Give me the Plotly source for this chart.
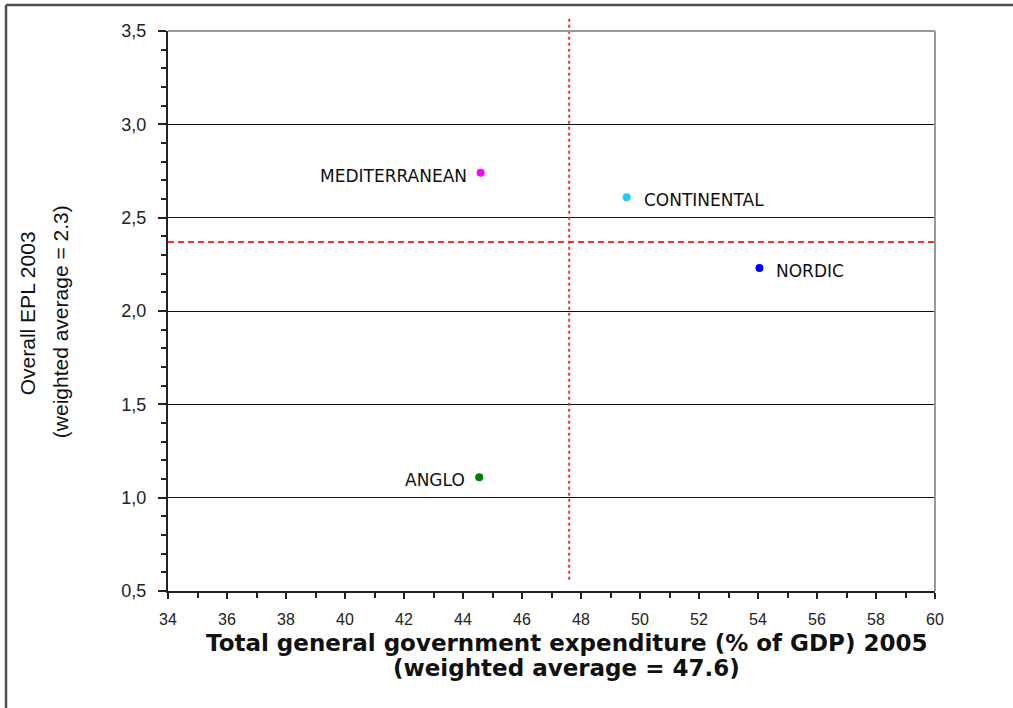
import plotly.graph_objects as go

# ---- data ----
regions = ["MEDITERRANEAN", "CONTINENTAL", "NORDIC", "ANGLO"]
expenditure = [44.6, 49.55, 54.05, 44.55]     # % of GDP 2005
epl = [2.74, 2.61, 2.23, 1.11]                 # Overall EPL 2003
colors = ["#FF00FF", "#22CCEE", "#0000FF", "#008000"]
label_side = ["left", "right", "right", "left"]

avg_expenditure = 47.6
avg_epl = 2.37

y_ticks = [0.5, 1.0, 1.5, 2.0, 2.5, 3.0, 3.5]
y_ticktext = ["0,5", "1,0", "1,5", "2,0", "2,5", "3,0", "3,5"]
x_ticks = list(range(34, 61, 2))

W, H = 1013, 708
L, R, T, B = 168, 78, 31, 117

fig = go.Figure()

fig.add_trace(go.Scatter(
    x=expenditure, y=epl, mode="markers",
    marker=dict(color=colors, size=8, symbol="circle", line=dict(width=0)),
    hoverinfo="skip", showlegend=False, cliponaxis=False,
))

# labels beside points
for name, xv, yv, side in zip(regions, expenditure, epl, label_side):
    fig.add_annotation(
        x=xv, y=yv, xref="x", yref="y", text=name, showarrow=False,
        xanchor="right" if side == "left" else "left",
        xshift=-12 if side == "left" else 15, yshift=-3,
        font=dict(family="DejaVu Sans", size=17, color="#111111"),
    )

# weighted-average reference lines
fig.add_shape(type="line", xref="x", yref="paper",
              x0=avg_expenditure, x1=avg_expenditure, y0=0.02, y1=1.023,
              line=dict(color="#FF2A2A", width=2, dash="3px,3px"))
fig.add_shape(type="line", xref="paper", yref="y",
              x0=0, x1=1, y0=avg_epl, y1=avg_epl,
              line=dict(color="#FF2A2A", width=2, dash="6px,4px"))

# plot-area top/right borders (gray)
fig.add_shape(type="line", xref="paper", yref="paper", x0=0, x1=1, y0=1, y1=1,
              line=dict(color="#999999", width=2))
fig.add_shape(type="line", xref="paper", yref="paper", x0=1, x1=1, y0=0, y1=1,
              line=dict(color="#999999", width=2))

# outer frame (left and top)
fx0 = (6 - L) / (W - L - R)
fy1 = (H - B - 5) / (H - T - B)
fx1 = (W - L) / (W - L - R)
fy0 = (H - B - H) / (H - T - B)
fig.add_shape(type="line", xref="paper", yref="paper", x0=fx0, x1=fx0, y0=fy0, y1=fy1,
              line=dict(color="#505050", width=2.5))
fig.add_shape(type="line", xref="paper", yref="paper", x0=fx0, x1=fx1, y0=fy1, y1=fy1,
              line=dict(color="#505050", width=2.5))

# axis titles
fig.add_annotation(xref="paper", yref="paper", x=0.52, y=-0.093,
                   text="<b>Total general government expenditure (% of GDP) 2005</b>",
                   showarrow=False, xanchor="center", yanchor="middle",
                   font=dict(family="DejaVu Sans", size=23, color="#111111"))
fig.add_annotation(xref="paper", yref="paper", x=0.52, y=-0.137,
                   text="<b>(weighted average = 47.6)</b>",
                   showarrow=False, xanchor="center", yanchor="middle",
                   font=dict(family="DejaVu Sans", size=23, color="#111111"))
fig.add_annotation(xref="paper", yref="paper", x=(27 - L) / (W - L - R), y=0.496,
                   text="Overall EPL 2003", textangle=-90,
                   showarrow=False, xanchor="center", yanchor="middle",
                   font=dict(family="Liberation Sans Narrow, Liberation Sans", size=21, color="#111111"))
fig.add_annotation(xref="paper", yref="paper", x=(60 - L) / (W - L - R), y=0.480,
                   text="(weighted average = 2.3)", textangle=-90,
                   showarrow=False, xanchor="center", yanchor="middle",
                   font=dict(family="Liberation Sans Narrow, Liberation Sans", size=21, color="#111111"))

fig.update_layout(
    width=W, height=H,
    margin=dict(l=L, r=R, t=T, b=B),
    paper_bgcolor="white", plot_bgcolor="white",
    xaxis=dict(
        range=[34, 60], tickvals=x_ticks, showgrid=False, zeroline=False,
        showline=True, linecolor="#222222", linewidth=2,
        ticks="outside", ticklen=6, tickwidth=1.5, tickcolor="#222222",
        minor=dict(dtick=1, ticks="outside", ticklen=5, tickwidth=1.5, tickcolor="#222222"),
        ticklabelstandoff=7,
        tickfont=dict(family="Liberation Sans", size=16, color="#222222"),
    ),
    yaxis=dict(
        range=[0.5, 3.5], tickvals=y_ticks, ticktext=y_ticktext,
        showgrid=True, gridcolor="#111111", gridwidth=1.2, zeroline=False,
        showline=True, linecolor="#222222", linewidth=2,
        ticks="outside", ticklen=8, tickwidth=1.5, tickcolor="#222222",
        minor=dict(dtick=0.1, ticks="outside", ticklen=5, tickwidth=1.5,
                   tickcolor="#222222", showgrid=False),
        ticklabelstandoff=8,
        tickfont=dict(family="Liberation Sans", size=18, color="#222222"),
    ),
)

fig.write_html("out.html", config={"displayModeBar": False},
               post_script="document.body.style.margin='0';")
